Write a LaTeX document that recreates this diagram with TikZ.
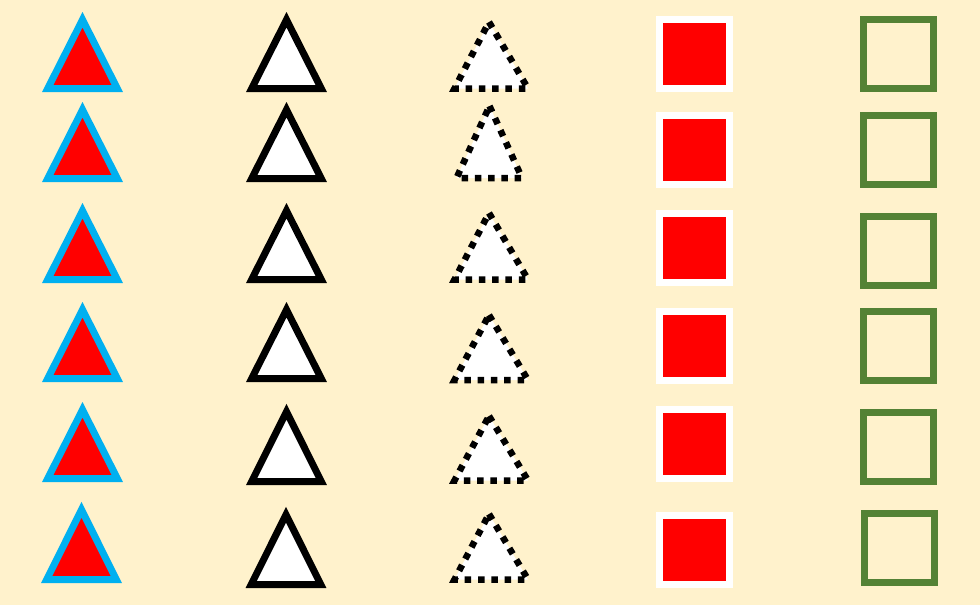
\documentclass[tikz,border=0pt]{standalone}
\definecolor{mybg}{HTML}{FFF2CC}
\definecolor{myblue}{HTML}{00B0F0}
\definecolor{myred}{HTML}{FF0000}
\definecolor{mygreen}{HTML}{548235}
\newcommand\TriThick[4]{\draw[#1] ({#2},{#3+7.75}) -- ({#2+34.8},{#4-3.5}) -- ({#2-34.8},{#4-3.5}) -- cycle;}
% apex x, apex y, base y, left x, right x
\newcommand\TriDot[5]{\draw[dottedtri] ({#1},{#2}) -- ({#5},{#3}) -- ({#4},{#3}) -- cycle;}
\newcommand\SqBox[3]{\draw[#1] ({#2+3.5},{#3+3.5}) rectangle ({#2+73.5},{#3+72.5});}
\begin{document}
\begin{tikzpicture}[x=1pt,y=-1pt,
  bluetri/.style={draw=myblue,fill=myred,line width=7pt,line join=miter},
  blacktri/.style={draw=black,fill=white,line width=7pt,line join=miter},
  dottedtri/.style={draw=black,fill=white,line width=6.5pt,dash pattern=on 6.5pt off 6.8pt},
  redsq/.style={draw=white,fill=myred,line width=7pt},
  greensq/.style={draw=mygreen,line width=7pt}]
\fill[mybg] (0,0) rectangle (980,605);
\useasboundingbox (0,0) rectangle (980,605);
% column 1
\TriThick{bluetri}{82.5}{12}{92}
\TriThick{bluetri}{82.5}{102}{182}
\TriThick{bluetri}{82.5}{203}{283}
\TriThick{bluetri}{82.5}{302}{382}
\TriThick{bluetri}{82.5}{402}{482}
\TriThick{bluetri}{81.5}{502}{583}
% column 2
\TriThick{blacktri}{286.5}{12}{92}
\TriThick{blacktri}{286.5}{102}{182}
\TriThick{blacktri}{286.5}{203}{283}
\TriThick{blacktri}{286.5}{302}{382}
\TriThick{blacktri}{286.5}{404}{485}
\TriThick{blacktri}{286}{507}{588}
% column 3
\TriDot{489}{22}{88.5}{454.5}{528}
\TriDot{489.5}{106}{178}{456.5}{522}
\TriDot{489}{213}{279.5}{454.5}{528}
\TriDot{489}{315}{380}{454.5}{528}
\TriDot{489}{416}{480.5}{454.5}{528}
\TriDot{489}{514}{579.5}{454.5}{528}
% column 4
\SqBox{redsq}{656}{16}
\SqBox{redsq}{656}{112}
\SqBox{redsq}{656}{210}
\SqBox{redsq}{656}{308}
\SqBox{redsq}{656}{406}
\SqBox{redsq}{656}{512}
% column 5
\SqBox{greensq}{860}{16}
\SqBox{greensq}{860}{112}
\SqBox{greensq}{860}{213}
\SqBox{greensq}{860}{308}
\SqBox{greensq}{860}{409}
\SqBox{greensq}{861}{510}
\end{tikzpicture}
\end{document}
